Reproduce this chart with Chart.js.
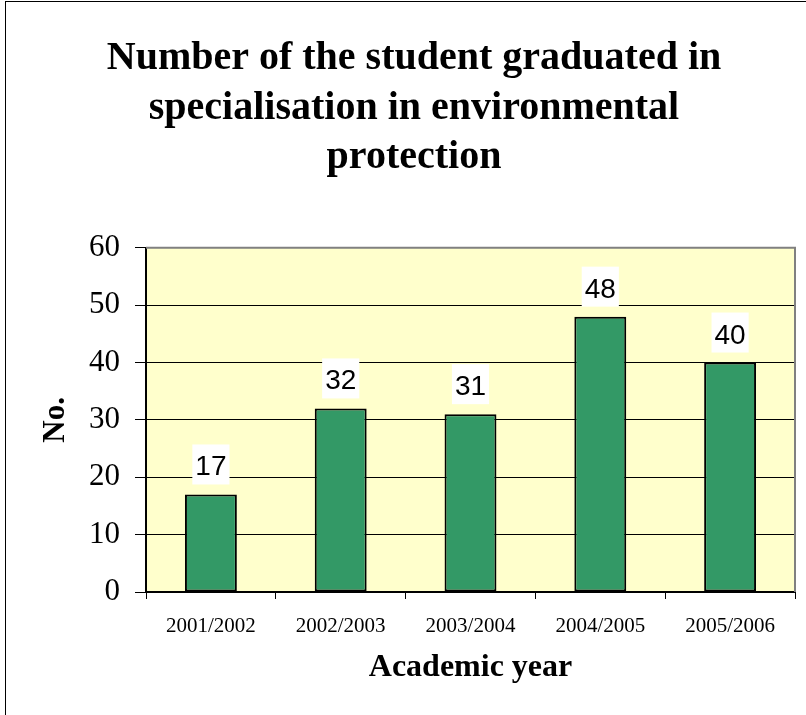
<!DOCTYPE html>
<html>
<head>
<meta charset="utf-8">
<script src="https://cdn.jsdelivr.net/npm/chart.js@4/dist/chart.umd.min.js"></script>
<style>
  html, body { margin: 0; padding: 0; overflow: hidden; background: #fff; }
  #frame {
    position: absolute;
    left: 5px;
    top: 1px;
    width: 816px;
    height: 740px;
    border: 1px solid #000;
  }
  canvas { display: block; }
</style>
</head>
<body>
<div id="frame">
  <canvas id="gradChart" width="816" height="713" style="width:816px;height:713px"></canvas>
</div>
<script>
const YEARS = ['2001/2002', '2002/2003', '2003/2004', '2004/2005', '2005/2006']
const GRADUATES = [17, 32, 31, 48, 40]
const Y_TICKS = [0, 10, 20, 30, 40, 50, 60]
const TITLE_LINES = [
  'Number of the student graduated in',
  'specialisation in environmental',
  'protection',
]

const SERIF = '"Liberation Serif", "Times New Roman", serif'
const SANS = '"Liberation Sans", Arial, sans-serif'

// yellow plot background, grey top/right frame
const plotFrame = {
  id: 'plotFrame',
  beforeDraw(chart) {
    const { ctx, chartArea: a } = chart
    ctx.save()
    ctx.fillStyle = '#FFFFCC'
    ctx.fillRect(a.left, a.top, a.right - a.left, a.bottom - a.top)
    ctx.restore()
  },
  afterDraw(chart) {
    const { ctx, chartArea: a } = chart
    ctx.save()
    ctx.strokeStyle = '#808080'
    ctx.lineWidth = 2
    ctx.beginPath()
    ctx.moveTo(a.left, a.top)
    ctx.lineTo(a.right, a.top)
    ctx.lineTo(a.right, a.bottom)
    ctx.stroke()
    ctx.restore()
  },
}

// value above each bar on a white box
const valueLabels = {
  id: 'valueLabels',
  afterDatasetsDraw(chart) {
    const { ctx } = chart
    const meta = chart.getDatasetMeta(0)
    ctx.save()
    ctx.font = '28px ' + SANS
    ctx.textAlign = 'center'
    ctx.textBaseline = 'alphabetic'
    meta.data.forEach((bar, i) => {
      const text = String(GRADUATES[i])
      const w = ctx.measureText(text).width + 6
      const boxBottom = bar.y - 10
      const boxTop = boxBottom - 40
      ctx.fillStyle = '#fff'
      ctx.fillRect(bar.x - w / 2, boxTop, w, 40)
      ctx.fillStyle = '#000'
      ctx.fillText(text, bar.x, boxBottom - 9)
    })
    ctx.restore()
  },
}

new Chart(document.getElementById('gradChart'), {
  type: 'bar',
  data: {
    labels: YEARS,
    datasets: [
      {
        data: GRADUATES,
        backgroundColor: '#339966',
        borderColor: '#000',
        borderWidth: 2,
        borderSkipped: false,
        barPercentage: 0.4,
        categoryPercentage: 1,
      },
    ],
  },
  options: {
    responsive: false,
    animation: false,
    layout: { padding: { left: 27, right: 27, top: 0, bottom: 0 } },
    plugins: {
      legend: { display: false },
      tooltip: { enabled: false },
      title: {
        display: true,
        text: TITLE_LINES,
        color: '#000',
        font: { family: SERIF, size: 40, weight: 'bold', lineHeight: 1.24 },
        padding: { top: 32, bottom: 65 },
      },
    },
    scales: {
      x: {
        grid: {
          offset: true,
          drawOnChartArea: false,
          drawTicks: true,
          tickLength: 7,
          color: '#000',
        },
        border: { color: '#000', width: 2 },
        ticks: {
          color: '#000',
          font: { family: SERIF, size: 21 },
          padding: 15,
          maxRotation: 0,
        },
        title: {
          display: true,
          text: 'Academic year',
          color: '#000',
          font: { family: SERIF, size: 32, weight: 'bold' },
          padding: { top: 0, bottom: 28 },
        },
        afterFit(scale) {
          scale.height = 123
        },
      },
      y: {
        min: 0,
        max: 60,
        afterBuildTicks(scale) {
          scale.ticks = Y_TICKS.map((v) => ({ value: v }))
        },
        grid: {
          color: '#000',
          lineWidth: 1,
          drawTicks: true,
          tickLength: 11,
          tickColor: '#000',
        },
        border: { color: '#000', width: 2 },
        ticks: {
          color: '#000',
          font: { family: SERIF, size: 31 },
          padding: 15,
        },
        title: {
          display: true,
          text: 'No.',
          color: '#000',
          font: { family: SERIF, size: 31, weight: 'bold' },
          padding: { top: 4, bottom: 0 },
        },
        afterFit(scale) {
          scale.width = 113
        },
      },
    },
  },
  plugins: [plotFrame, valueLabels],
})
</script>
</body>
</html>
